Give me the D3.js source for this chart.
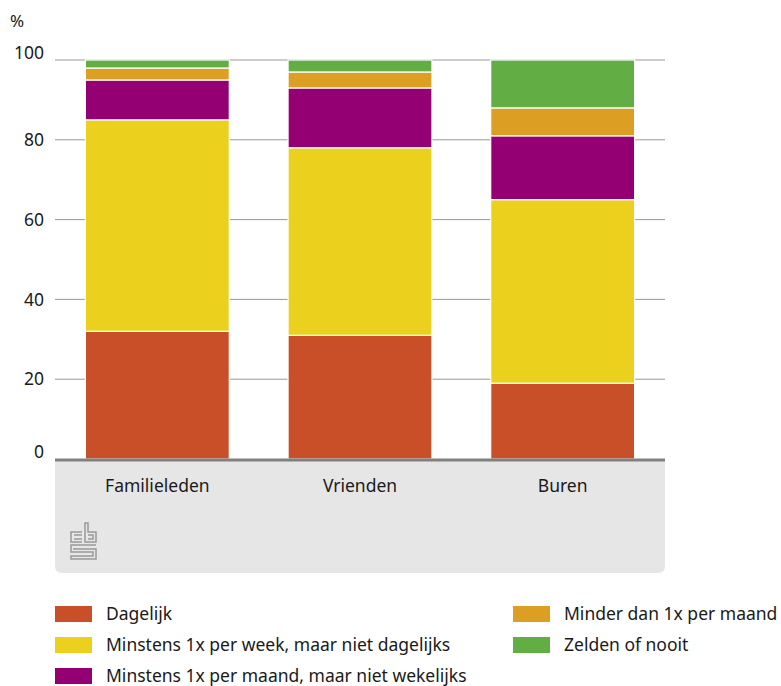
<!DOCTYPE html>
<html><head><meta charset="utf-8">
<script src="https://cdn.jsdelivr.net/npm/d3@7"></script>
<style>body{margin:0;background:#fff}svg{font-family:"Noto Sans",sans-serif}</style>
</head><body><svg id="c" width="781" height="686"></svg>
<script>
const categories = ["Familieleden","Vrienden","Buren"];
const seriesNames = ["Dagelijk","Minstens 1x per week, maar niet dagelijks","Minstens 1x per maand, maar niet wekelijks","Minder dan 1x per maand","Zelden of nooit"];
const dagelijk = [32,31,19];
const perWeek = [53,47,46];
const perMaand = [10,15,16];
const minder = [3,4,7];
const zelden = [2,3,12];
const yTicks = [0,20,40,60,80,100];
const colors = ["#c84f28","#ebd11e","#940073","#dd9f23","#62ae44"];

const svg = d3.select("#c");
const L=55,R=665,T=60,B=459;
const x = d3.scaleBand().domain(categories).range([L,R]).paddingInner(0.29).paddingOuter(0.15);
const y = d3.scaleLinear().domain([0,100]).range([B,T]);

// panel
const pb=573, r=7;
svg.append("path").attr("d",`M${L},${B}H${R}V${pb-r}Q${R},${pb} ${R-r},${pb}H${L+r}Q${L},${pb} ${L},${pb-r}Z`).attr("fill","#e6e6e6");

// gridlines
svg.append("g").selectAll("line").data(yTicks.filter(d=>d>0)).join("line")
  .attr("x1",L).attr("x2",R).attr("y1",d=>y(d)).attr("y2",d=>y(d))
  .attr("stroke","#999").attr("stroke-width",1);
svg.append("g").selectAll("text").data(yTicks).join("text")
  .attr("x",44).attr("y",d=>y(d)+((d===0||d===100)?-7:0)).attr("dy","0.35em")
  .attr("text-anchor","end").attr("font-size",17.5).attr("fill","#1a1a1a").text(d=>d);
svg.append("text").attr("x",10).attr("y",27).attr("font-size",17).attr("fill","#1a1a1a").text("%");

const rows = categories.map((c,i)=>({cat:c,vals:[dagelijk[i],perWeek[i],perMaand[i],minder[i],zelden[i]]}));
const keys=[0,1,2,3,4];
const stack = d3.stack().keys(keys).value((d,k)=>d.vals[k])(rows);
svg.append("g").selectAll("g").data(stack).join("g").attr("fill",(d,i)=>colors[i])
  .selectAll("rect").data(d=>d).join("rect")
  .attr("x",d=>x(d.data.cat)).attr("width",x.bandwidth())
  .attr("y",d=>y(d[1])).attr("height",d=>y(d[0])-y(d[1]))
  .attr("stroke","#fff").attr("stroke-width",1.2);

// baseline
svg.append("line").attr("x1",L).attr("x2",R).attr("y1",B+1).attr("y2",B+1).attr("stroke","#808080").attr("stroke-width",3);

svg.append("g").selectAll("text").data(categories).join("text")
  .attr("x",d=>x(d)+x.bandwidth()/2).attr("y",492).attr("text-anchor","middle")
  .attr("font-size",17.5).attr("fill","#1a1a1a").text(d=>d);

// logo
const lg=svg.append("g").attr("fill","none").attr("stroke","#999").attr("stroke-width",1.5);
lg.append("path").attr("d","M82,532H71V542H82M74,535H82M74,539H82");
lg.append("path").attr("d","M85,523V542H96V532H88V523Z M88,535H93V539H88");
lg.append("path").attr("d","M96,545H71V552H93V556H71V559H96V549H74V548");
</script>
<script>
// legend
const leg=[[0,55,614],[1,55,645],[2,55,676],[3,513,614],[4,513,645]];
const lgG=d3.select("#c").append("g").selectAll("g").data(leg).join("g");
lgG.append("rect").attr("x",d=>d[1]).attr("y",d=>d[2]-8).attr("width",37).attr("height",16).attr("fill",d=>colors[d[0]]);
lgG.append("text").attr("x",d=>d[1]+51).attr("y",d=>d[2]).attr("dy","0.35em").attr("font-size",17.5).attr("fill","#1a1a1a").text(d=>seriesNames[d[0]]);
</script></body></html>
